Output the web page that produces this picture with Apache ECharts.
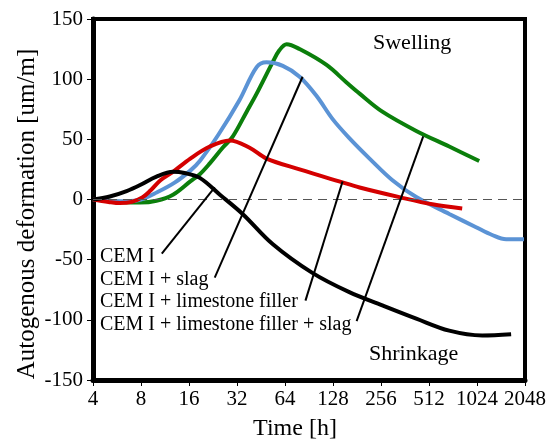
<!DOCTYPE html>
<html>
<head>
<meta charset="utf-8">
<script src="https://cdn.jsdelivr.net/npm/echarts@6/dist/echarts.min.js"></script>
<style>
  html, body { margin: 0; padding: 0; background: #fff; }
  #chart { width: 549px; height: 446px; }
</style>
</head>
<body>
<div id="chart"></div>
<script>
// series names (pointer labels)
const seriesNames = ['CEM I', 'CEM I + slag', 'CEM I + limestone filler', 'CEM I + limestone filler + slag']

// CEM I
const cem1Time = [4, 5.1, 6.5, 7.9, 10, 12.7, 15, 18.7, 25, 34.7, 53.5, 95, 162, 261, 426, 686, 1104, 1676]
const cem1Def = [0, 2.5, 7, 12, 19, 23, 22, 18, 4, -12, -37, -61, -77, -88, -99, -109, -113, -112]

// CEM I + slag
const slagTime = [4, 5, 6.5, 8, 10.1, 13, 16.3, 18.7, 24.5, 33, 42.5, 49, 62, 79, 101, 127, 162, 217, 302, 426, 686, 1010, 1275, 1560, 2019]
const slagDef = [0, -1, -1.5, 0, 6, 14, 24, 32, 54, 82, 110, 114, 111, 102, 86, 67, 51, 34, 16, 2, -12, -23, -29.5, -33, -33]

// CEM I + limestone filler
const lfTime = [4, 5, 5.9, 7, 8.2, 9.1, 10.6, 12.7, 16.3, 21.6, 28.8, 38.4, 49, 79, 140, 188, 334, 537, 827]
const lfDef = [0, -2, -3, -2, 2, 7, 16, 23, 34, 44, 49, 43, 34, 25, 15, 10, 2, -4, -7.5]

// CEM I + limestone filler + slag
const lfSlagTime = [4, 5, 6, 7.9, 10, 12.7, 16.3, 18.7, 21.6, 26, 30, 36.8, 42.5, 53.5, 59, 65.5, 79, 116, 155, 188, 261, 426, 686, 1057]
const lfSlagDef = [0, -1, -2, -2.5, -1, 4, 15, 21, 30, 43, 52, 73, 88, 114, 124, 129, 125, 112, 97.5, 88, 73, 57, 44, 32]

// pointer lines: [label end, curve end] in data coords (time, deformation)
const pointerFrom = [[10.8, -45], [23.2, -65], [86, -84], [180, -101]]
const pointerTo = [[23.2, 10], [82.5, 102], [147, 15], [471, 52.5]]

const colors = ['#000000', '#5b93d5', '#d40000', '#0b7f0b']
const serif = 'Liberation Serif'

function zip(a, b) {
  return a.map((t, i) => [t, b[i]])
}

const chart = echarts.init(document.getElementById('chart'))

const pointerLines = pointerFrom.map((p, i) => [
  { coord: p, lineStyle: { color: '#000', width: 2, type: 'solid' } },
  { coord: pointerTo[i] }
])

function curve(i, time, def, z) {
  return {
    name: seriesNames[i],
    type: 'line',
    data: zip(time, def),
    smooth: 0.35,
    showSymbol: false,
    lineStyle: { color: colors[i], width: 4 },
    z: z
  }
}

const black = curve(0, cem1Time, cem1Def, 4)
black.markLine = {
  silent: true,
  symbol: ['none', 'none'],
  label: { show: false },
  data: [
    { yAxis: 0, lineStyle: { color: '#555', width: 1, type: [9, 6] } },
    ...pointerLines
  ]
}

chart.setOption({
  animation: false,
  grid: {
    left: 93, right: 22, top: 19, bottom: 62,
    show: true, borderColor: '#000', borderWidth: 4
  },
  xAxis: {
    type: 'log',
    logBase: 2,
    min: 4,
    max: 2048,
    interval: 1,
    name: 'Time [h]',
    nameLocation: 'middle',
    nameGap: 37,
    nameTextStyle: { fontFamily: serif, fontSize: 24, color: '#000', padding: [0, 28, 0, 0] },
    axisLine: { onZero: false, lineStyle: { color: '#000', width: 5 } },
    axisTick: { show: true, length: 6, lineStyle: { color: '#000', width: 1 } },
    axisLabel: {
      fontFamily: serif, fontSize: 21, color: '#000', margin: 9,
      formatter: (v) => String(Math.round(v))
    },
    splitLine: { show: false },
    minorTick: { show: false }
  },
  yAxis: {
    type: 'value',
    min: -150,
    max: 150,
    interval: 50,
    axisLine: { show: true, lineStyle: { color: '#000', width: 5 } },
    axisTick: { show: true, length: 6, lineStyle: { color: '#000', width: 1 } },
    axisLabel: { fontFamily: serif, fontSize: 21, color: '#000', margin: 10 },
    splitLine: { show: false }
  },
  series: [
    black,
    curve(1, slagTime, slagDef, 3),
    curve(2, lfTime, lfDef, 3),
    curve(3, lfSlagTime, lfSlagDef, 2)
  ],
  graphic: [
    {
      type: 'text', x: 27, y: 214, rotation: Math.PI / 2,
      style: {
        text: 'Autogenous deformation [um/m]', fontFamily: serif, fontSize: 25, fill: '#000',
        textAlign: 'center', textVerticalAlign: 'middle'
      }
    },
    { type: 'text', left: 373, top: 32, style: { text: 'Swelling', fontFamily: serif, fontSize: 22, fill: '#000' } },
    { type: 'text', left: 369, top: 343, style: { text: 'Shrinkage', fontFamily: serif, fontSize: 22, fill: '#000' } },
    ...seriesNames.map((n, i) => ({
      type: 'text',
      left: 100,
      top: 247 + i * 22.5,
      z: 10,
      style: { text: n, fontFamily: serif, fontSize: 20, fill: '#000' }
    }))
  ]
})

window.addEventListener('resize', () => {
  chart.resize()
})
</script>
</body>
</html>
